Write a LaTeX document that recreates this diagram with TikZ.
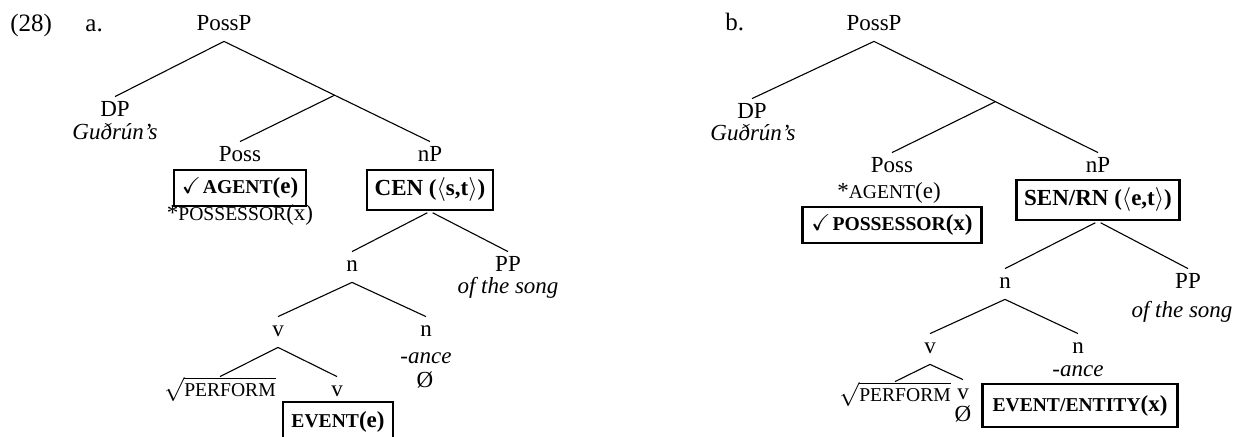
\documentclass[tikz,border=0pt]{standalone}
\usepackage{amssymb}
\usepackage{fontspec}
\setmainfont{Liberation Serif}
\usetikzlibrary{calc}
\newcommand{\scR}[1]{{\fontsize{9.8}{11}\selectfont #1}}
\newcommand{\scB}[1]{{\fontsize{9.8}{11}\selectfont\bfseries #1}}
\begin{document}
\begin{tikzpicture}[x=0.5pt,y=-0.5pt,
  font=\fontsize{11.5}{13}\selectfont,
  lbl/.style={anchor=base, inner xsep=0pt, inner ysep=2.5pt, text height=7.5pt, text depth=2.5pt},
  ann/.style={anchor=base, inner sep=0pt},
  exl/.style={anchor=base west, inner sep=0pt, font=\fontsize{12.5}{14}\selectfont},
  tbox/.style={draw, line width=1.4pt, inner sep=0pt, font=\fontsize{11.5}{13}\selectfont\bfseries},
  br/.style={line width=0.55pt},
]
\useasboundingbox (0,0) rectangle (1242,437);
\clip (0,0) rectangle (1242,437);

% ---------- tree a ----------
\node[exl] (ex) at (10,32) {(28)};
\node[exl] (la) at (85,32) {a.};
\node[lbl] (PossPa) at (224,31) {PossP};
\node[lbl] (DPa) at (115,117) {DP};
\node[ann] (Ga) at (115,140) {\itshape Guðrún's};
\node[lbl] (Possa) at (240,162) {Poss};
\node[tbox, minimum width=66pt, minimum height=18pt] (AGa) at (240,188) {$\checkmark$\kern1pt\scB{AGENT}(e)};
\node[ann] (POa) at (240,221) {*\scR{POSSESSOR}(x)};
\node[lbl] (nPa) at (430,162) {nP};
\node[tbox, minimum width=63pt, minimum height=20pt] (CENa) at (430,190) {CEN ($\langle$s,t$\rangle$)};
\node[lbl] (na1) at (352,272) {n};
\node[lbl] (PPa) at (508,272) {PP};
\node[ann] (OSa) at (508,294) {\itshape of the song};
\node[lbl] (va1) at (278,337) {v};
\node[lbl] (na2) at (426,337) {n};
\node[ann] (ANa) at (426,364) {\itshape -ance};
\node[ann] (ZEa) at (425,388) {Ø};
\node[lbl] (Ra) at (220,397) {$\sqrt{\mbox{\scR{PERFORM}}}$};
\node[lbl] (va2) at (337,397) {v};
\node[tbox, minimum width=55pt, minimum height=20pt] (EVa) at (338,422) {\scB{EVENT}(e)};

\draw[br] (PossPa.south) -- (DPa.north);
\draw[br] (PossPa.south) -- (nPa.north);
\coordinate (ma) at ($(PossPa.south)!0.537!(nPa.north)$);
\draw[br] (ma) -- (Possa.north);
\draw[br, shorten <=1.5pt] (CENa.south) -- (na1.north);
\draw[br, shorten <=1.5pt] (CENa.south) -- (PPa.north);
\draw[br] (na1.south) -- (va1.north);
\draw[br] (na1.south) -- (na2.north);
\draw[br] (va1.south) -- (Ra.north);
\draw[br] (va1.south) -- (va2.north);

% ---------- tree b ----------
\node[exl] (lb) at (725,31) {b.};
\node[lbl] (PossPb) at (874,31) {PossP};
\node[lbl] (DPb) at (752,119) {DP};
\node[ann] (Gb) at (753,141) {\itshape Guðrún's};
\node[lbl] (Possb) at (892,173) {Poss};
\node[ann] (AGb) at (889,199) {*\scR{AGENT}(e)};
\node[tbox, minimum width=89.5pt, minimum height=18pt] (POb) at (892,225) {$\checkmark$\kern1pt\scB{POSSESSOR}(x)};
\node[lbl] (nPb) at (1098,173) {nP};
\node[tbox, minimum width=81.5pt, minimum height=20pt] (SENb) at (1098,200) {SEN/RN ($\langle$e,t$\rangle$)};
\node[lbl] (nb1) at (1005,289) {n};
\node[lbl] (PPb) at (1188,289) {PP};
\node[ann] (OSb) at (1182,318) {\itshape of the song};
\node[lbl] (vb1) at (930,354) {v};
\node[lbl] (nb2) at (1078,354) {n};
\node[ann] (ANb) at (1078,377) {\itshape -ance};
\node[lbl] (Rb) at (895,402) {$\sqrt{\mbox{\scR{PERFORM}}}$};
\node[lbl] (vb2) at (963,400) {v};
\node[ann] (ZEb) at (963,422) {Ø};
\node[tbox, minimum width=97.5pt, minimum height=21.5pt] (EVb) at (1080,405.5) {\scB{EVENT/ENTITY}(x)};

\draw[br] (PossPb.south) -- (DPb.north);
\draw[br] (PossPb.south) -- (nPb.north);
\coordinate (mb) at ($(PossPb.south)!0.542!(nPb.north)$);
\draw[br] (mb) -- (Possb.north);
\draw[br, shorten <=1.5pt] (SENb.south) -- (nb1.north);
\draw[br, shorten <=1.5pt] (SENb.south) -- (PPb.north);
\draw[br] (nb1.south) -- (vb1.north);
\draw[br] (nb1.south) -- (nb2.north);
\draw[br] (vb1.south) -- (Rb.north);
\draw[br] (vb1.south) -- (vb2.north);
\end{tikzpicture}
\end{document}
